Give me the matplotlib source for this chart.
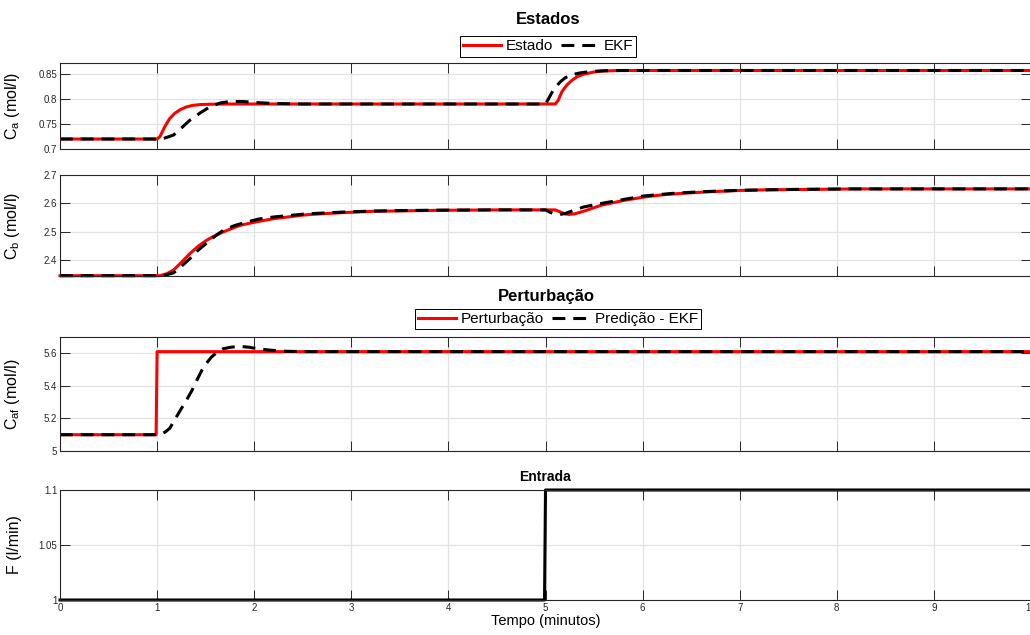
import numpy as np
import matplotlib
matplotlib.use('Agg')
import matplotlib.pyplot as plt

plt.rcParams['font.family'] = ['Liberation Sans', 'DejaVu Sans']

# Estados: Ca
t_ca = [0, 1.0, 1.03, 1.08, 1.13, 1.18, 1.24, 1.3, 1.36, 1.45, 1.55, 1.7, 2.0,
        5.1, 5.13, 5.17, 5.22, 5.27, 5.33, 5.4, 5.5, 5.6, 5.75, 6.0, 10]
ca = [0.72, 0.72, 0.725, 0.745, 0.761, 0.771, 0.779, 0.784, 0.787, 0.789, 0.7895, 0.79, 0.79,
      0.79, 0.797, 0.815, 0.828, 0.837, 0.845, 0.85, 0.854, 0.856, 0.857, 0.857, 0.857]
t_ca_ekf = [0, 1.05, 1.17, 1.25, 1.34, 1.45, 1.55, 1.65, 1.75, 1.88, 2.01, 2.2, 2.5,
            5.0, 5.03, 5.08, 5.15, 5.2, 5.26, 5.35, 5.46, 5.6, 5.8, 10]
ca_ekf = [0.72, 0.72, 0.728, 0.742, 0.758, 0.773, 0.785, 0.792, 0.795, 0.795, 0.793, 0.791, 0.79,
          0.79, 0.80, 0.818, 0.834, 0.842, 0.848, 0.852, 0.855, 0.8565, 0.857, 0.857]

# Estados: Cb
t_cb = [0, 1.03, 1.1, 1.17, 1.25, 1.34, 1.42, 1.51, 1.6, 1.68, 1.78, 1.86, 2.01, 2.2, 2.54,
        2.89, 3.23, 3.6, 3.92, 4.5, 5.1, 5.15, 5.2, 5.24, 5.3, 5.4, 5.57, 5.8, 6.01, 6.2,
        6.43, 6.7, 7.01, 7.3, 7.63, 8.2, 10]
cb = [2.345, 2.345, 2.352, 2.365, 2.392, 2.4235, 2.448, 2.47, 2.487, 2.499, 2.513, 2.523,
      2.534, 2.546, 2.56, 2.567, 2.572, 2.574, 2.5755, 2.577, 2.577, 2.57, 2.563, 2.561,
      2.563, 2.573, 2.593, 2.61, 2.622, 2.63, 2.636, 2.641, 2.6456, 2.648, 2.649, 2.651, 2.651]
t_cb_ekf = [0, 1.06, 1.17, 1.25, 1.34, 1.42, 1.51, 1.6, 1.68, 1.8, 1.92, 2.05, 2.2, 2.54,
            2.89, 3.23, 3.6, 3.92, 4.5, 5.0, 5.05, 5.08, 5.15, 5.2, 5.28, 5.39, 5.55, 5.74,
            6.01, 6.3, 6.6, 7.0, 7.5, 8.2, 10]
cb_ekf = [2.345, 2.345, 2.355, 2.378, 2.406, 2.434, 2.46, 2.485, 2.505, 2.522, 2.534, 2.545,
          2.552, 2.563, 2.569, 2.573, 2.575, 2.576, 2.577, 2.577, 2.568, 2.564, 2.561, 2.564,
          2.574, 2.587, 2.598, 2.61, 2.626, 2.635, 2.641, 2.646, 2.649, 2.651, 2.651]

# Perturbacao: Caf
t_caf = [0, 0.99, 1.0, 10]
caf = [5.1, 5.1, 5.61, 5.61]
t_caf_ekf = [0, 1.03, 1.08, 1.13, 1.19, 1.25, 1.31, 1.36, 1.41, 1.46, 1.51, 1.56, 1.62,
             1.68, 1.77, 1.86, 1.95, 2.03, 2.15, 2.3, 2.5, 10]
caf_ekf = [5.1, 5.1, 5.115, 5.139, 5.2, 5.261, 5.32, 5.373, 5.435, 5.495, 5.54, 5.577,
           5.607, 5.628, 5.638, 5.642, 5.637, 5.628, 5.62, 5.613, 5.61, 5.61]

# Entrada: F
t_f = [0, 4.99, 5.0, 10]
f_in = [1.0, 1.0, 1.1, 1.1]

W, H = 1030, 635
fig = plt.figure(figsize=(W / 100, H / 100), dpi=100)

def add_ax(top, bottom):
    return fig.add_axes([60 / W, 1 - bottom / H, 971 / W, (bottom - top) / H])

ax1 = add_ax(63, 149)
ax2 = add_ax(175, 276)
ax3 = add_ax(337, 451)
ax4 = add_ax(490, 600)

dk = '#262626'
for ax in [ax1, ax2, ax3, ax4]:
    ax.set_xlim(0, 10)
    ax.set_xticks(range(11))
    ax.grid(True, color='#e3e3e3', linewidth=0.9)
    ax.set_axisbelow(True)
    ax.tick_params(direction='in', top=True, right=True, length=7, width=0.7,
                   colors=dk, labelsize=7, pad=2)
    for s in ax.spines.values():
        s.set_color(dk)
        s.set_linewidth(0.8)
    if ax is not ax4:
        ax.set_xticklabels([])
    ax.yaxis.set_label_coords(-0.039, 0.5)

red_kw = dict(color='red', linewidth=2.2)
ekf_kw = dict(color='black', linewidth=2.2, linestyle=(0, (4.2, 2.6)))

ax1.plot(t_ca, ca, label='Estado', **red_kw)
ax1.plot(t_ca_ekf, ca_ekf, label='EKF', **ekf_kw)
ax1.set_ylim(0.7, 0.872)
ax1.set_yticks([0.7, 0.75, 0.8, 0.85])
ax1.set_yticklabels(['0.7', '0.75', '0.8', '0.85'])
ax1.set_ylabel(r'$\mathregular{C_a}$ (mol/l)', fontsize=11.5)

ax2.plot(t_cb, cb, clip_on=False, **red_kw)
ax2.plot(t_cb_ekf, cb_ekf, clip_on=False, **ekf_kw)
ax2.set_ylim(2.3439, 2.7)
ax2.set_yticks([2.4, 2.5, 2.6, 2.7])
ax2.set_yticklabels(['2.4', '2.5', '2.6', '2.7'])
ax2.set_ylabel(r'$\mathregular{C_b}$ (mol/l)', fontsize=11.5)

ax3.plot(t_caf, caf, label='Perturbação', **red_kw)
ax3.plot(t_caf_ekf, caf_ekf, label='Predição - EKF', **ekf_kw)
ax3.set_ylim(5, 5.7)
ax3.set_yticks([5, 5.2, 5.4, 5.6])
ax3.set_yticklabels(['5', '5.2', '5.4', '5.6'])
ax3.set_ylabel(r'$\mathregular{C_{af}}$ (mol/l)', fontsize=11.5)

ax4.plot(t_f, f_in, color='black', linewidth=2.2, clip_on=False)
ax4.set_ylim(1, 1.1)
ax4.set_yticks([1, 1.05, 1.1])
ax4.set_yticklabels(['1', '1.05', '1.1'])
ax4.set_ylabel('F (l/min)', fontsize=11.5)
ax4.set_xticklabels([str(i) for i in range(11)])
ax4.set_xlabel('Tempo (minutos)', fontsize=10.5, labelpad=1)

leg_kw = dict(loc='center', ncol=2, fontsize=11, frameon=True, fancybox=False,
              edgecolor='black', framealpha=1, borderpad=0.2, handlelength=2.5,
              handletextpad=0.3, columnspacing=0.5, borderaxespad=0,
              bbox_transform=fig.transFigure)
l1 = ax1.legend(bbox_to_anchor=(548 / W, 1 - 46.5 / H), **leg_kw)
l1.get_frame().set_linewidth(0.7)
l3 = ax3.legend(bbox_to_anchor=(558 / W, 1 - 319 / H), **leg_kw)
l3.get_frame().set_linewidth(0.7)

fig.text(548 / W, 1 - 20 / H, 'Estados', ha='center', va='center', fontsize=12, fontweight='bold')
fig.text(546 / W, 1 - 296 / H, 'Perturbação', ha='center', va='center', fontsize=12, fontweight='bold')
fig.text(545 / W, 1 - 477 / H, 'Entrada', ha='center', va='center', fontsize=10, fontweight='bold')

plt.savefig('out.png', dpi=100)
plt.close()
